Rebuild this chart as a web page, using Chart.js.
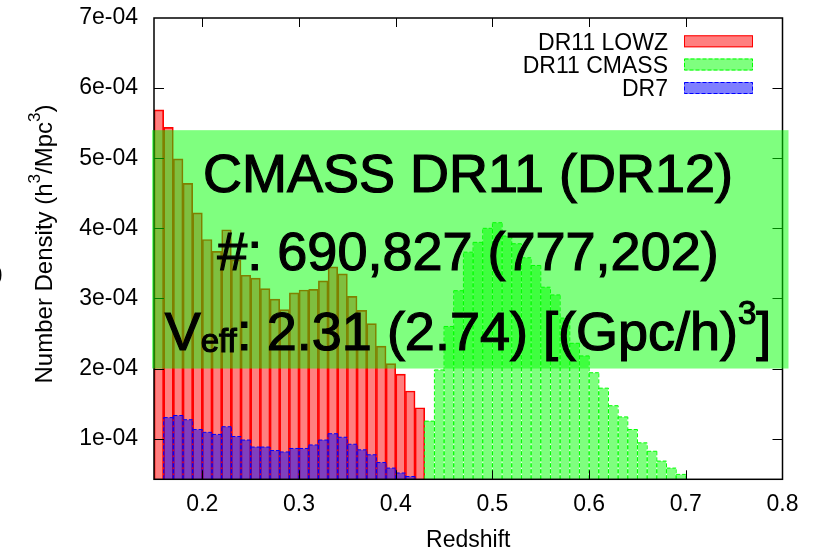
<!DOCTYPE html>
<html>
<head>
<meta charset="utf-8">
<script src="https://cdn.jsdelivr.net/npm/chart.js@4.4.1/dist/chart.umd.min.js"></script>
<style>
  html, body { margin: 0; padding: 0; background: #fff; }
  #wrap { width: 821px; height: 550px; }
</style>
</head>
<body>
<div id="wrap"><canvas id="density_chart" width="821" height="550"></canvas></div>
<script>
// redshift bin centres (bin width 0.01) and number densities in h^3/Mpc^3
var lowzZ = [0.155, 0.165, 0.175, 0.185, 0.195, 0.205, 0.215, 0.225, 0.235, 0.245,
    0.255, 0.265, 0.275, 0.285, 0.295, 0.305, 0.315, 0.325, 0.335, 0.345,
    0.355, 0.365, 0.375, 0.385, 0.395, 0.405, 0.415, 0.425];
var lowzDensity = [5.69e-4, 5.44e-4, 4.99e-4, 4.64e-4, 4.22e-4, 3.84e-4, 3.67e-4, 3.98e-4, 3.55e-4, 3.33e-4,
    3.29e-4, 3.14e-4, 2.99e-4, 2.84e-4, 3.08e-4, 3.12e-4, 3.13e-4, 3.25e-4, 3.45e-4, 3.35e-4,
    3.03e-4, 2.83e-4, 2.64e-4, 2.32e-4, 2.07e-4, 1.92e-4, 1.68e-4, 1.44e-4];

var cmassZ = [0.435, 0.445, 0.455, 0.465, 0.475, 0.485, 0.495, 0.505, 0.515, 0.525,
    0.535, 0.545, 0.555, 0.565, 0.575, 0.585, 0.595, 0.605, 0.615, 0.625,
    0.635, 0.645, 0.655, 0.665, 0.675, 0.685, 0.695];
var cmassDensity = [1.25e-4, 1.98e-4, 2.60e-4, 3.11e-4, 3.66e-4, 3.80e-4, 4.00e-4, 4.08e-4, 3.89e-4, 3.78e-4,
    3.58e-4, 3.47e-4, 3.16e-4, 3.05e-4, 2.72e-4, 2.36e-4, 2.18e-4, 1.94e-4, 1.72e-4, 1.47e-4,
    1.31e-4, 1.13e-4, 9.4e-5, 8.2e-5, 6.8e-5, 5.8e-5, 4.9e-5];

var dr7Z = [0.165, 0.175, 0.185, 0.195, 0.205, 0.215, 0.225, 0.235, 0.245, 0.255,
    0.265, 0.275, 0.285, 0.295, 0.305, 0.315, 0.325, 0.335, 0.345, 0.355,
    0.365, 0.375, 0.385, 0.395, 0.405, 0.415];
var dr7Density = [1.30e-4, 1.33e-4, 1.27e-4, 1.13e-4, 1.09e-4, 1.06e-4, 1.17e-4, 1.03e-4, 9.8e-5, 8.8e-5,
    8.8e-5, 8.3e-5, 8.1e-5, 8.6e-5, 8.6e-5, 9.1e-5, 9.8e-5, 1.07e-4, 1.02e-4, 9.2e-5,
    8.4e-5, 7.7e-5, 6.6e-5, 5.8e-5, 5.1e-5, 4.6e-5];

var xTicks = [0.2, 0.3, 0.4, 0.5, 0.6, 0.7, 0.8];
var yTicks = [1e-4, 2e-4, 3e-4, 4e-4, 5e-4, 6e-4, 7e-4];
var legendLabels = ['DR11 LOWZ', 'DR11 CMASS', 'DR7'];
var yTitle = [['Number Density (h', 'main'], ['3', 'sup'], ['/Mpc', 'main'], ['3', 'sup'], [')', 'main']];

// summary box text
var boxLines = ['CMASS DR11 (DR12)', '#: 690,827 (777,202)'];
var boxVeff = [['V', 'main'], ['eff', 'sub'], [': 2.31 (2.74) [(Gpc/h)', 'main'], ['3', 'sup'], [']', 'main']];
var boxRange = [2e-4, 5.4e-4];

var FONT = '"Liberation Sans", Arial, Helvetica, sans-serif';
Chart.defaults.font.family = FONT;
Chart.defaults.color = '#000';

function bins(z, d) {
    return z.map(function (v, i) { return { x: v, y: d[i] }; });
}

// write a run of [text, style] pieces with sub/superscripts, starting at x
function richText(ctx, parts, x, y, fonts, shift, heavy) {
    parts.forEach(function (p) {
        ctx.font = fonts[p[1]];
        ctx.fillText(p[0], x, y + shift[p[1]]);
        if (heavy) ctx.strokeText(p[0], x, y + shift[p[1]]);
        x += ctx.measureText(p[0]).width;
    });
}
function richWidth(ctx, parts, fonts) {
    var w = 0;
    parts.forEach(function (p) {
        ctx.font = fonts[p[1]];
        w += ctx.measureText(p[0]).width;
    });
    return w;
}

// gnuplot draws the CMASS and DR7 borders dashed; Chart.js bars can't, so stroke them here
var dashedBars = {
    id: 'dashedBars',
    afterDatasetDraw: function (chart, args) {
        var ds = chart.data.datasets[args.index];
        if (!ds.dash) return;
        var a = chart.chartArea, ctx = chart.ctx;
        ctx.save();
        ctx.beginPath();
        ctx.rect(a.left, a.top, a.right - a.left, a.bottom - a.top);
        ctx.clip();
        ctx.strokeStyle = ds.outline;
        ctx.lineWidth = 1;
        ctx.setLineDash(ds.dash);
        ctx.beginPath();
        args.meta.data.forEach(function (bar) {
            var p = bar.getProps(['x', 'y', 'width'], true);
            var l = p.x - p.width / 2 - 0.5, r = p.x + p.width / 2 + 0.5;
            ctx.moveTo(l, a.bottom); ctx.lineTo(l, p.y);
            ctx.moveTo(r, a.bottom); ctx.lineTo(r, p.y);
            ctx.moveTo(l, p.y); ctx.lineTo(r, p.y);
        });
        ctx.stroke();
        ctx.restore();
    }
};

// border and inward tick marks on all four sides, plus the y title with superscripts
var frameTicks = {
    id: 'frameTicks',
    afterDatasetsDraw: function (chart) {
        var ctx = chart.ctx, a = chart.chartArea, xs = chart.scales.x, ys = chart.scales.y;
        ctx.save();
        ctx.strokeStyle = '#000';
        ctx.lineWidth = 1;
        ctx.beginPath();
        xTicks.slice(0, -1).forEach(function (v) {
            var px = Math.round(xs.getPixelForValue(v)) + 0.5;
            ctx.moveTo(px, a.bottom); ctx.lineTo(px, a.bottom - 9);
            ctx.moveTo(px, a.top); ctx.lineTo(px, a.top + 9);
        });
        yTicks.slice(0, -1).forEach(function (v) {
            var py = Math.round(ys.getPixelForValue(v)) + 0.5;
            ctx.moveTo(a.left, py); ctx.lineTo(a.left + 10, py);
            ctx.moveTo(a.right, py); ctx.lineTo(a.right - 10, py);
        });
        ctx.stroke();
        ctx.lineWidth = 1.5;
        ctx.strokeRect(a.left, a.top, a.right - a.left, a.bottom - a.top);

        var fonts = { main: '24px ' + FONT, sup: '17px ' + FONT };
        var shift = { main: 0, sup: -12 };
        ctx.translate(51.5, 244);
        ctx.rotate(-Math.PI / 2);
        ctx.fillStyle = '#000';
        ctx.textAlign = 'left';
        richText(ctx, yTitle, -richWidth(ctx, yTitle, fonts) / 2, 0, fonts, shift, false);
        ctx.restore();
    }
};

// key in the top right corner, text first then the sample box
var keyBox = {
    id: 'keyBox',
    afterDraw: function (chart) {
        var ctx = chart.ctx;
        var rows = [41.3, 64.5, 88];
        ctx.save();
        ctx.font = '23px ' + FONT;
        ctx.textAlign = 'right';
        chart.data.datasets.forEach(function (ds, i) {
            var cy = rows[i];
            ctx.fillStyle = '#000';
            ctx.fillText(legendLabels[i], 668, cy + 8.4);
            ctx.fillStyle = ds.backgroundColor;
            ctx.fillRect(684, cy - 6, 69, 12);
            ctx.strokeStyle = ds.dash ? ds.outline : ds.borderColor;
            ctx.lineWidth = 1;
            ctx.setLineDash(ds.dash || []);
            ctx.strokeRect(684.5, cy - 5.5, 68, 11);
        });
        ctx.restore();
    }
};

// translucent summary panel drawn over the histogram
var summary = {
    id: 'summary',
    afterDraw: function (chart) {
        var ctx = chart.ctx, a = chart.chartArea, ys = chart.scales.y;
        var top = ys.getPixelForValue(boxRange[1]), bot = ys.getPixelForValue(boxRange[0]);
        ctx.save();
        ctx.fillStyle = 'rgba(0,255,0,0.5)';
        ctx.fillRect(a.left - 2, top, a.right - a.left + 8, bot - top);

        ctx.fillStyle = '#000';
        ctx.strokeStyle = '#000';
        ctx.lineWidth = 1.2;
        ctx.textAlign = 'center';
        ctx.font = '54px ' + FONT;
        ctx.fillText(boxLines[0], 468, 191.5);
        ctx.strokeText(boxLines[0], 468, 191.5);
        ctx.fillText(boxLines[1], 468, 270);
        ctx.strokeText(boxLines[1], 468, 270);

        var fonts = { main: '54px ' + FONT, sub: '33px ' + FONT, sup: '33px ' + FONT };
        var shift = { main: 0, sub: 2, sup: -26 };
        ctx.textAlign = 'left';
        richText(ctx, boxVeff, 468 - richWidth(ctx, boxVeff, fonts) / 2, 350, fonts, shift, true);

        // edge of a letter cut off at the left border
        ctx.font = 'bold 36px ' + FONT;
        ctx.fillText('O', -25, 288);
        ctx.restore();
    }
};

var density_chart = document.getElementById('density_chart');
var My_density_chart = new Chart(density_chart, {
    type: 'bar',
    data: {
        datasets: [{
            label: legendLabels[0],
            data: bins(lowzZ, lowzDensity),
            backgroundColor: 'rgba(255,0,0,0.5)',
            borderColor: 'rgb(255,0,0)',
            borderWidth: 1,
            barPercentage: 1,
            categoryPercentage: 1,
            grouped: false,
            order: 3
        }, {
            label: legendLabels[1],
            data: bins(cmassZ, cmassDensity),
            backgroundColor: 'rgba(0,255,0,0.5)',
            borderWidth: 0,
            outline: 'rgb(0,255,0)',
            dash: [4, 2],
            barPercentage: 0.9,
            categoryPercentage: 1,
            grouped: false,
            order: 2
        }, {
            label: legendLabels[2],
            data: bins(dr7Z, dr7Density),
            backgroundColor: 'rgba(0,0,255,0.5)',
            borderWidth: 0,
            outline: 'rgb(0,0,255)',
            dash: [4, 2],
            barPercentage: 0.9,
            categoryPercentage: 1,
            grouped: false,
            order: 1
        }]
    },
    options: {
        responsive: false,
        animation: false,
        events: [],
        layout: { padding: { top: 18, right: 38.5, left: 0, bottom: 0 } },
        plugins: {
            legend: { display: false },
            tooltip: { enabled: false }
        },
        scales: {
            x: {
                type: 'linear',
                min: 0.15,
                max: 0.8,
                offset: false,
                grid: { display: false, offset: false, drawTicks: false },
                border: { display: false },
                afterBuildTicks: function (s) {
                    s.ticks = xTicks.map(function (v) { return { value: v }; });
                },
                afterFit: function (s) {
                    s.height = 70.7;
                    s.paddingLeft = 0;
                    s.paddingRight = 0;
                },
                ticks: {
                    font: { size: 23 },
                    padding: 12,
                    maxRotation: 0,
                    autoSkip: false,
                    callback: function (v) { return v.toFixed(1); }
                },
                title: {
                    display: true,
                    text: 'Redshift',
                    font: { size: 23, lineHeight: 1 },
                    padding: { top: 0, bottom: -2 }
                }
            },
            y: {
                min: 4.2e-5,
                max: 7e-4,
                grid: { display: false, drawTicks: false },
                border: { display: false },
                afterBuildTicks: function (s) {
                    s.ticks = yTicks.map(function (v) { return { value: v }; });
                },
                afterFit: function (s) {
                    s.width = 154;
                    s.paddingTop = 0;
                    s.paddingBottom = 0;
                },
                ticks: {
                    font: { size: 23 },
                    padding: 16,
                    autoSkip: false,
                    callback: function (v) { return Math.round(v * 1e4) + 'e-04'; }
                }
            }
        }
    },
    plugins: [dashedBars, frameTicks, keyBox, summary]
});
</script>
</body>
</html>
